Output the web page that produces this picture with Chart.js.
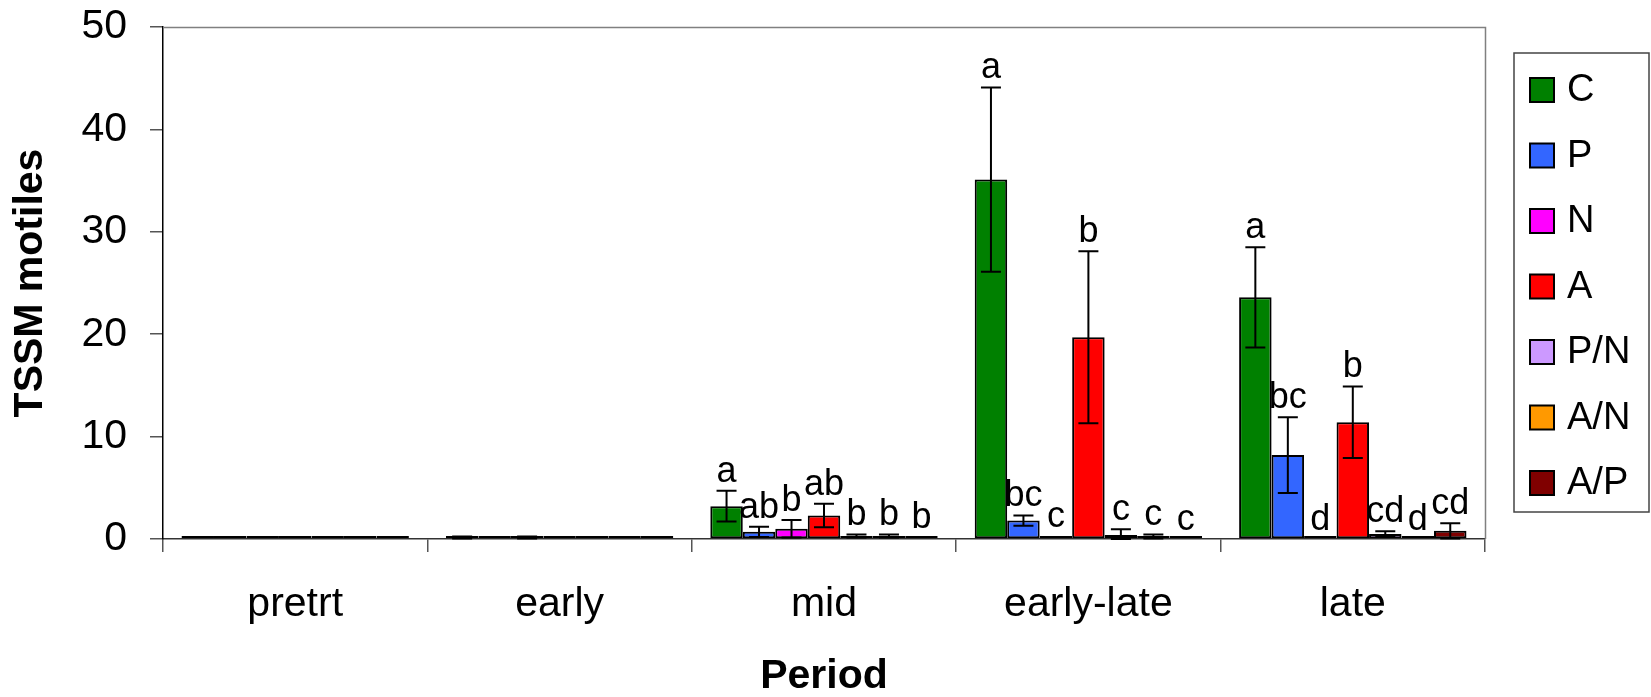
<!DOCTYPE html>
<html>
<head>
<meta charset="utf-8">
<script src="https://cdn.jsdelivr.net/npm/chart.js@4"></script>
<style>
  body { margin: 0; background: #fff; }
</style>
</head>
<body>
<canvas id="myChart" width="1651" height="697"></canvas>
<script>
const categories = ['pretrt', 'early', 'mid', 'early-late', 'late'];
const yTicks = [0, 10, 20, 30, 40, 50];

// mean TSSM motiles per treatment
const valC  = [0, 0.15, 3.2, 35.1, 23.6];
const valP  = [0, 0, 0.7, 1.8, 8.2];
const valN  = [0, 0.15, 1.0, 0.3, 0];
const valA  = [0, 0, 2.3, 19.7, 11.4];
const valPN = [0, 0, 0.3, 0.4, 0.5];
const valAN = [0, 0, 0.3, 0.25, 0];
const valAP = [0, 0, 0.15, 0, 0.8];

// standard errors
const seC  = [0, 0.1, 1.5, 9.0, 4.9];
const seP  = [0, 0, 0.5, 0.5, 3.7];
const seN  = [0, 0.1, 0.85, 0, 0];
const seA  = [0, 0, 1.15, 8.4, 3.5];
const sePN = [0, 0, 0.15, 0.55, 0.25];
const seAN = [0, 0, 0.15, 0.2, 0];
const seAP = [0, 0, 0, 0, 0.75];

// significance letters
const letC  = ['', '', 'a', 'a', 'a'];
const letP  = ['', '', 'ab', 'bc', 'bc'];
const letN  = ['', '', 'b', 'c', 'd'];
const letA  = ['', '', 'ab', 'b', 'b'];
const letPN = ['', '', 'b', 'c', 'cd'];
const letAN = ['', '', 'b', 'c', 'd'];
const letAP = ['', '', 'b', 'c', 'cd'];

const FONT = '"Liberation Sans", Arial, sans-serif';

function serie(label, data, se, letters, color) {
    return {
        label: label,
        data: data,
        se: se,
        letters: letters,
        backgroundColor: color,
        borderColor: '#000',
        borderWidth: 2,
        borderSkipped: false,
        minBarLength: 3,
        categoryPercentage: 0.86,
        barPercentage: 1.0
    };
}

// barras de erro + letras + moldura + legenda
const extras = {
    id: 'extras',
    afterDatasetsDraw(chart) {
        const c = chart.ctx;
        const y = chart.scales.y;
        c.save();
        c.strokeStyle = '#000';
        c.lineWidth = 2;
        chart.data.datasets.forEach((ds, i) => {
            const meta = chart.getDatasetMeta(i);
            meta.data.forEach((bar, j) => {
                const v = ds.data[j];
                const e = ds.se[j];
                if (e > 0) {
                    const yt = y.getPixelForValue(v + e);
                    const yb = y.getPixelForValue(Math.max(v - e, 0));
                    c.beginPath();
                    c.moveTo(bar.x, yt); c.lineTo(bar.x, yb);
                    c.moveTo(bar.x - 10, yt); c.lineTo(bar.x + 10, yt);
                    c.moveTo(bar.x - 10, yb); c.lineTo(bar.x + 10, yb);
                    c.stroke();
                }
                const t = ds.letters[j];
                if (t) {
                    c.fillStyle = '#000';
                    c.font = '36px ' + FONT;
                    c.textAlign = 'center';
                    c.textBaseline = 'alphabetic';
                    c.fillText(t, bar.x, y.getPixelForValue(v + e) - 9);
                }
            });
        });
        c.restore();
    },
    afterDraw(chart) {
        const c = chart.ctx;
        const a = chart.chartArea;
        c.save();
        // moldura superior e direita
        c.strokeStyle = '#808080';
        c.lineWidth = 1.5;
        c.beginPath();
        c.moveTo(a.left, a.top + 0.5);
        c.lineTo(a.right + 0.5, a.top + 0.5);
        c.lineTo(a.right + 0.5, a.bottom);
        c.stroke();

        // legenda
        c.strokeStyle = '#444';
        c.lineWidth = 1.5;
        c.strokeRect(1514, 53, 135, 459);
        c.font = '38px ' + FONT;
        c.textAlign = 'left';
        c.textBaseline = 'middle';
        chart.data.datasets.forEach((ds, i) => {
            const cy = 90 + i * 65.5;
            c.fillStyle = ds.backgroundColor;
            c.fillRect(1530, cy - 12, 24, 24);
            c.strokeStyle = '#000';
            c.lineWidth = 2;
            c.strokeRect(1530, cy - 12, 24, 24);
            c.fillStyle = '#000';
            c.fillText(ds.label, 1567, cy + 1);
        });
        c.restore();
    }
};

const ctx = document.getElementById('myChart').getContext('2d');

const myChart = new Chart(ctx, {
    type: 'bar',
    data: {
        labels: categories,
        datasets: [
            serie('C', valC, seC, letC, '#008000'),
            serie('P', valP, seP, letP, '#3366FF'),
            serie('N', valN, seN, letN, '#FF00FF'),
            serie('A', valA, seA, letA, '#FF0000'),
            serie('P/N', valPN, sePN, letPN, '#CC99FF'),
            serie('A/N', valAN, seAN, letAN, '#FF9900'),
            serie('A/P', valAP, seAP, letAP, '#800000')
        ]
    },
    options: {
        responsive: false,
        animation: false,
        devicePixelRatio: 1,
        layout: { padding: { left: 0, right: 166, top: 27, bottom: 0 } },
        plugins: {
            legend: { display: false },
            tooltip: { enabled: false }
        },
        scales: {
            x: {
                afterFit: (s) => { s.height = 158; s.paddingLeft = 0; s.paddingRight = 0; },
                grid: {
                    offset: true,
                    drawOnChartArea: false,
                    tickLength: 13,
                    color: '#555',
                    lineWidth: 1.5
                },
                border: { display: true, color: '#333', width: 1.5 },
                ticks: {
                    color: '#000',
                    padding: 28,
                    font: { family: FONT, size: 41 }
                },
                title: {
                    display: true,
                    text: 'Period',
                    color: '#000',
                    padding: { top: 0, bottom: 0 },
                    font: { family: FONT, size: 41, weight: 'bold', lineHeight: 1 }
                }
            },
            y: {
                min: 0,
                max: 50,
                afterFit: (s) => { s.width = 163; s.paddingTop = 0; s.paddingBottom = 0; },
                afterBuildTicks: (s) => { s.ticks = yTicks.map(v => ({ value: v })); },
                grid: {
                    drawOnChartArea: false,
                    tickLength: 13,
                    color: '#555',
                    lineWidth: 1.5
                },
                border: { display: true, color: '#000', width: 1.5 },
                ticks: {
                    color: '#000',
                    padding: 23,
                    font: { family: FONT, size: 41 }
                },
                title: {
                    display: true,
                    text: 'TSSM motiles',
                    color: '#000',
                    padding: { top: 10, bottom: 0 },
                    font: { family: FONT, size: 41, weight: 'bold', lineHeight: 1 }
                }
            }
        }
    },
    plugins: [extras]
});
</script>
</body>
</html>
